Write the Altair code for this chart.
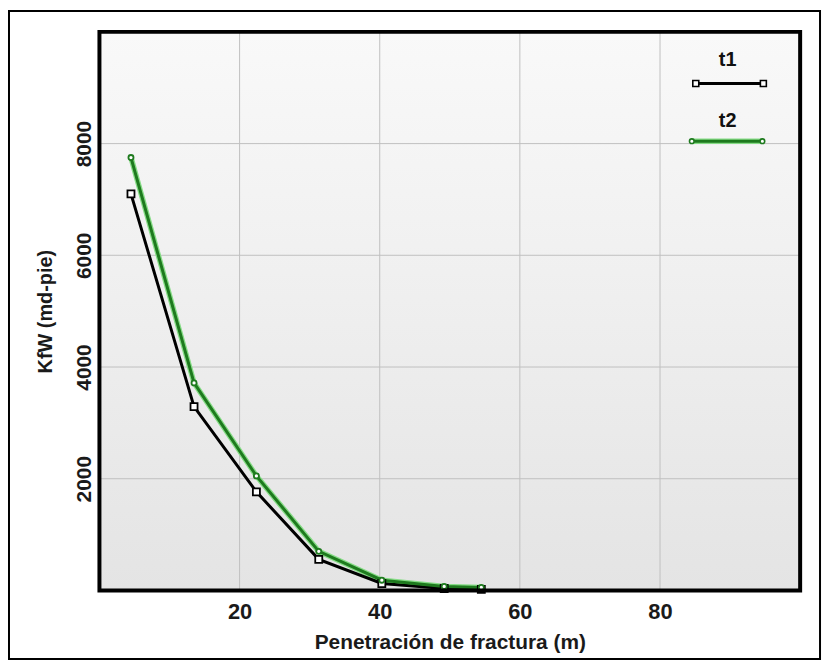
import altair as alt
import pandas as pd

# ---- data ----
x_vals = [4.5, 13.5, 22.4, 31.3, 40.3, 49.2, 54.5]
t1_vals = [7100, 3290, 1765, 556, 124, 35, 20]
t2_vals = [7750, 3715, 2050, 700, 183, 71, 53]
series = ["t1", "t2"]
series_colors = ["#000000", "#1e7a1e"]
x_ticks = [20, 40, 60, 80]
y_ticks = [2000, 4000, 6000, 8000]
x_title = "Penetración de fractura (m)"
y_title = "KfW (md-pie)"

rows = [{"x": x, "y": y, "s": "t1"} for x, y in zip(x_vals, t1_vals)]
rows += [{"x": x, "y": y, "s": "t2"} for x, y in zip(x_vals, t2_vals)]
df = pd.DataFrame(rows)
xgrid_df = pd.DataFrame({"x": x_ticks})
ygrid_df = pd.DataFrame({"y": y_ticks})

W, H = 705, 562
FONT = "Liberation Sans"
HALO = "#86dc86"

xs = alt.Scale(domain=[0, 100], nice=False, zero=False)
ys = alt.Scale(domain=[0, 10000], nice=False)
col = alt.Scale(domain=series, range=series_colors)

X_AX = alt.Axis(
    values=x_ticks, title=x_title, grid=False, format="d",
    domain=False, ticks=False, labelFont=FONT, labelFontWeight="bold",
    labelFontSize=22, labelColor="#1a1a1a", labelPadding=11,
    titleFont=FONT, titleFontWeight="bold", titleFontSize=21,
    titleColor="#1a1a1a", titlePadding=9)
Y_AX = alt.Axis(
    values=y_ticks, title=y_title, grid=False, format="d",
    domain=False, ticks=False, labelFont=FONT, labelFontWeight="bold",
    labelFontSize=21, labelColor="#1a1a1a", labelAngle=270,
    labelAlign="center", labelBaseline="bottom", labelPadding=5,
    titleFont=FONT, titleFontWeight="bold", titleFontSize=20,
    titleColor="#1a1a1a", titlePadding=18)

one = pd.DataFrame({"a": [0]})

bg = alt.Chart(one).mark_rect(
    color=alt.LinearGradient(
        gradient="linear",
        stops=[alt.GradientStop(color="#f9f9f9", offset=0),
               alt.GradientStop(color="#e4e4e4", offset=1)],
        x1=0, x2=0, y1=0, y2=1,
    )
).encode(x=alt.value(0), x2=alt.value(W), y=alt.value(0), y2=alt.value(H))

xgrid = alt.Chart(xgrid_df).mark_rule(color="#c0c0c0", strokeWidth=1).encode(
    x=alt.X("x:Q", scale=xs, axis=X_AX))
ygrid = alt.Chart(ygrid_df).mark_rule(color="#c0c0c0", strokeWidth=1).encode(
    y=alt.Y("y:Q", scale=ys, axis=Y_AX))

base = alt.Chart(df)

XE = alt.X("x:Q", scale=xs, axis=X_AX)
YE = alt.Y("y:Q", scale=ys, axis=Y_AX)

halo = base.transform_filter(alt.datum.s == "t2").mark_line(
    color=HALO, strokeWidth=5.5).encode(x=XE, y=YE)

lines = base.mark_line(strokeWidth=3).encode(
    x=XE, y=YE,
    color=alt.Color("s:N", scale=col, legend=None))

points = base.mark_point(filled=True, fill="white", opacity=1, strokeWidth=1.8).encode(
    x=XE, y=YE,
    stroke=alt.Stroke("s:N", scale=col, legend=None),
    shape=alt.Shape("s:N", scale=alt.Scale(domain=series, range=["square", "circle"]), legend=None),
    size=alt.Size("s:N", scale=alt.Scale(domain=series, range=[50, 26]), legend=None),
)

# legend drawn by hand (top right, inside the plot)
def pt(shape, stroke, size, x, y):
    return alt.Chart(one).mark_point(shape=shape, filled=True, fill="white", opacity=1,
                                     stroke=stroke, strokeWidth=1.6, size=size).encode(
        x=alt.value(x), y=alt.value(y))

leg_t1_txt = alt.Chart(one).mark_text(text="t1", font=FONT, fontWeight="bold", fontSize=20,
                                      color="#111111").encode(x=alt.value(632), y=alt.value(28))
leg_t1_line = alt.Chart(one).mark_rule(color="black", strokeWidth=3).encode(
    x=alt.value(600), x2=alt.value(668), y=alt.value(52))
leg_t2_txt = alt.Chart(one).mark_text(text="t2", font=FONT, fontWeight="bold", fontSize=20,
                                      color="#111111").encode(x=alt.value(632), y=alt.value(90))
leg_t2_halo = alt.Chart(one).mark_rule(color=HALO, strokeWidth=5.5).encode(
    x=alt.value(596), x2=alt.value(667), y=alt.value(110))
leg_t2_line = alt.Chart(one).mark_rule(color="#1e7a1e", strokeWidth=3).encode(
    x=alt.value(596), x2=alt.value(667), y=alt.value(110))

plot_frame = alt.Chart(one).mark_rect(fillOpacity=0, stroke="black", strokeWidth=4).encode(
    x=alt.value(0), x2=alt.value(W), y=alt.value(0), y2=alt.value(H))

outer_frame = alt.Chart(one).mark_rect(fillOpacity=0, stroke="black", strokeWidth=2).encode(
    x=alt.value(-91), x2=alt.value(725), y=alt.value(-21), y2=alt.value(631))

chart = alt.layer(
    bg, xgrid, ygrid, halo, lines, points,
    leg_t1_txt, leg_t1_line, pt("square", "black", 36, 600, 52), pt("square", "black", 36, 668, 52),
    leg_t2_txt, leg_t2_halo, leg_t2_line,
    pt("circle", "#1e7a1e", 22, 596, 110), pt("circle", "#1e7a1e", 22, 667, 110),
    plot_frame, outer_frame,
).resolve_scale(color="independent").properties(
    width=W, height=H,
    autosize=alt.AutoSizeParams(type="none"),
    padding={"left": 92, "top": 22, "right": 24, "bottom": 72},
    background="white",
).configure_view(stroke="transparent")

chart.save("out.html", embed_options={"renderer": "svg", "actions": False})
